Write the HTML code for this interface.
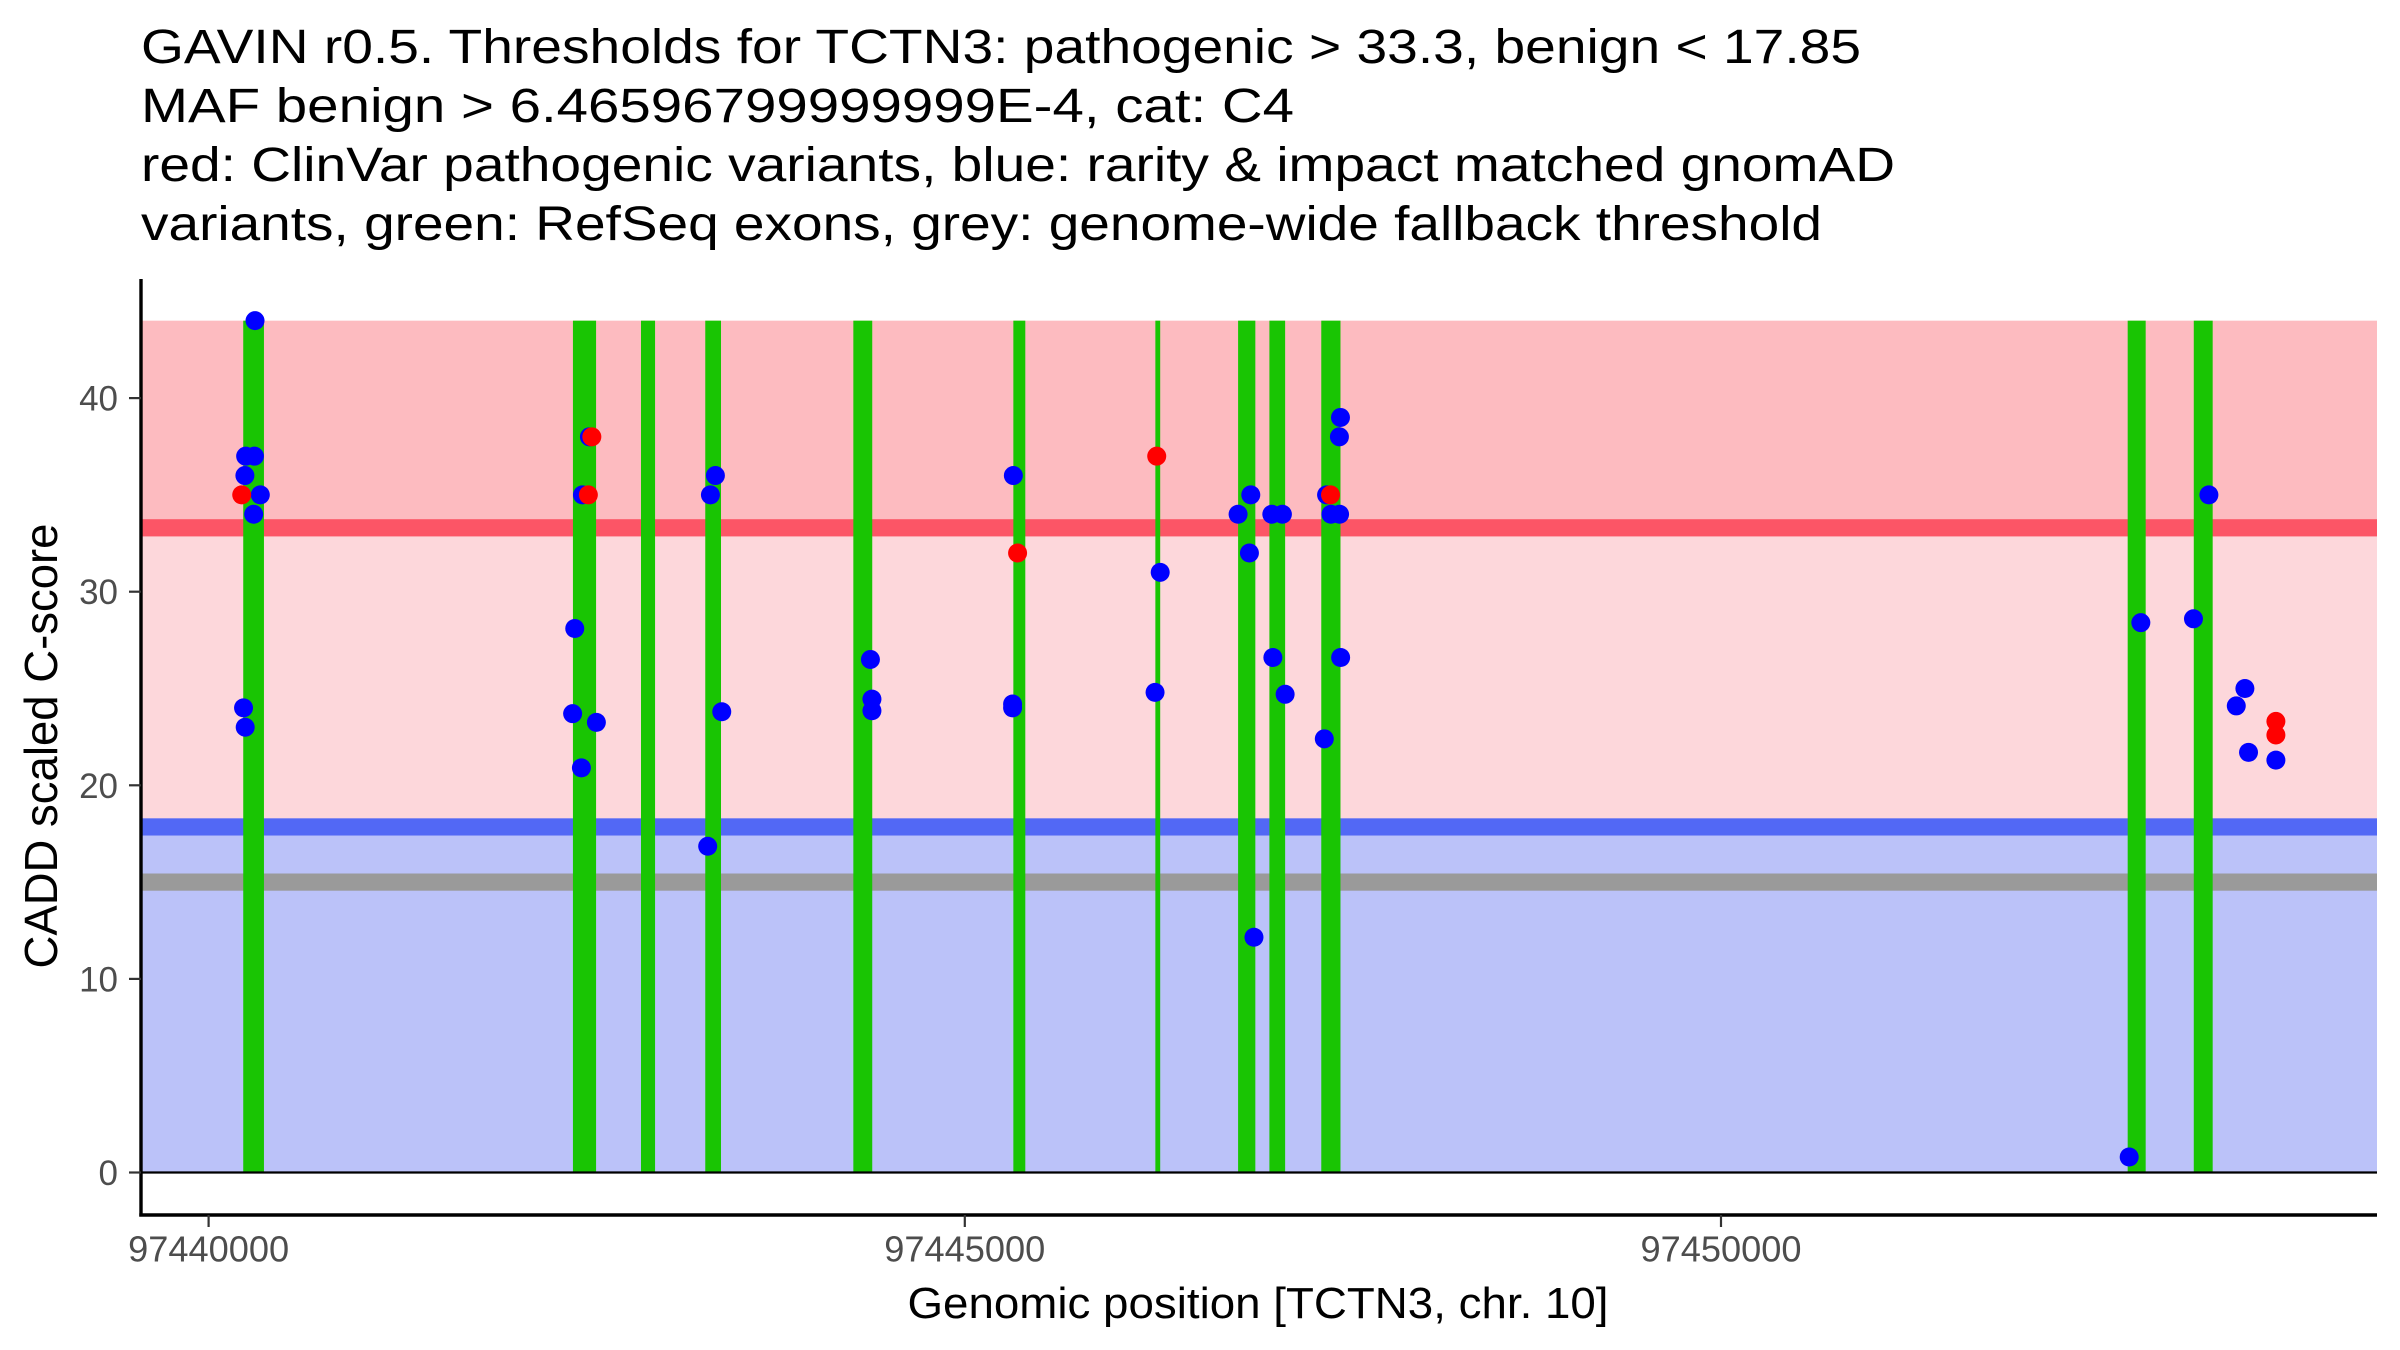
<!DOCTYPE html>
<html><head><meta charset="utf-8"><style>
html,body{margin:0;padding:0;background:#fff;}
svg{display:block;font-family:"Liberation Sans",Arial,sans-serif;}
</style></head><body>
<svg id="chart" width="2400" height="1350" viewBox="0 0 2400 1350" xmlns="http://www.w3.org/2000/svg">
<g font-size="48" fill="#000">
<text x="141" y="63" textLength="1720" lengthAdjust="spacingAndGlyphs">GAVIN r0.5. Thresholds for TCTN3: pathogenic &gt; 33.3, benign &lt; 17.85</text>
<text x="141" y="122" textLength="1153" lengthAdjust="spacingAndGlyphs">MAF benign &gt; 6.46596799999999E-4, cat: C4</text>
<text x="141" y="181" textLength="1754" lengthAdjust="spacingAndGlyphs">red: ClinVar pathogenic variants, blue: rarity &amp; impact matched gnomAD</text>
<text x="141" y="240" textLength="1681" lengthAdjust="spacingAndGlyphs">variants, green: RefSeq exons, grey: genome-wide fallback threshold</text>
</g>
<g id="plot"></g>
<text x="1258" y="1318" font-size="44" text-anchor="middle" textLength="701" lengthAdjust="spacingAndGlyphs">Genomic position [TCTN3, chr. 10]</text>
<text transform="translate(57,746) rotate(-90)" font-size="46" text-anchor="middle" textLength="445" lengthAdjust="spacingAndGlyphs">CADD scaled C-score</text>
</svg>
<script>
const exonStarts = [97440229,97442409,97442859,97443284,97444263,97445321,97446260,97446807,97447014,97447357,97452689,97453126];
const exonEnds   = [97440366,97442562,97442952,97443388,97444388,97445400,97446292,97446921,97447118,97447484,97452808,97453251];
const benignPos = [97440307,97440245,97440303,97440240,97440342,97440298,97440231,97440242,97442518,97442472,97442421,97442407,97442564,97442465,97443351,97443318,97443393,97443300,97444376,97444386,97444386,97445321,97445316,97445316,97446292,97446258,97446891,97446807,97446882,97446912,97447030,97447100,97447037,97447118,97447484,97447477,97447392,97447421,97447478,97447485,97447377,97453226,97452776,97453124,97453464,97453407,97453488,97453669,97452699];
const benignScore = [44,37,37,36,35,34,24,23,38,35,28.1,23.7,23.25,20.9,36,35,23.8,16.85,26.5,24.45,23.85,36,24.2,24,31,24.8,35,34,32,12.15,34,34,26.6,24.7,39,38,35,34,34,26.6,22.4,35,28.4,28.6,25,24.1,21.7,21.3,0.8];
const pathoPos = [97440219,97442534,97442511,97445349,97446269,97447418,97453669,97453669];
const pathoScore = [35,38,35,32,37,35,23.3,22.6];
const xTicks = [97440000,97445000,97450000];
const yTicks = [0,10,20,30,40];
const pathogenicThreshold = 33.3;
const benignThreshold = 17.85;
const fallbackThreshold = 15;
const yMaxBand = 44;

const NS='http://www.w3.org/2000/svg';
const X0=141, X1=2377, YTOP=279, YAX=1215;
const xScale = v => 208.6 + (v-97440000)*0.15124;
const yScale = v => 1172.5 - v*19.36;
const plot=document.getElementById('plot');
function mk(tag, attrs, parent){const e=document.createElementNS(NS,tag);for(const k in attrs)e.setAttribute(k,attrs[k]);(parent||plot).appendChild(e);return e;}

let r;
r=mk('rect',{x:X0,y:yScale(yMaxBand),width:X1-X0,height:yScale(pathogenicThreshold)-yScale(yMaxBand),fill:'#FDBBC0'});


r=mk('rect',{x:X0,y:yScale(pathogenicThreshold),width:X1-X0,height:yScale(benignThreshold)-yScale(pathogenicThreshold),fill:'#FDD7DB'});


r=mk('rect',{x:X0,y:yScale(benignThreshold),width:X1-X0,height:yScale(0)-yScale(benignThreshold),fill:'#BBC2F9'});



const lines=[[pathogenicThreshold,'#FC5566','pathogenic-threshold-line'],[benignThreshold,'#5268F5','benign-threshold-line'],[fallbackThreshold,'#9A9A9A','fallback-threshold-line']];
lines.forEach(l=>{
  const e=mk('rect',{x:X0,y:yScale(l[0])-8.6,width:X1-X0,height:17.2,fill:l[1]});
  
  
});

exonStarts.forEach((s,i)=>{
  const e=mk('rect',{x:xScale(s),y:yScale(yMaxBand),width:xScale(exonEnds[i])-xScale(s),height:yScale(0)-yScale(yMaxBand),fill:'#19C503'});
  
  
});

let zl=mk('line',{x1:X0,x2:X1,y1:yScale(0),y2:yScale(0),stroke:'#000','stroke-width':2.2});



benignPos.forEach((p,i)=>{
  const c=mk('circle',{cx:xScale(p),cy:yScale(benignScore[i]),r:9.5,fill:'#0000FF'});
  
  
});
pathoPos.forEach((p,i)=>{
  const c=mk('circle',{cx:xScale(p),cy:yScale(pathoScore[i]),r:9.5,fill:'#FF0000'});
  
  
});

let ax=mk('line',{x1:X0,x2:X0,y1:YTOP,y2:YAX+1.5,stroke:'#000','stroke-width':3.4});


ax=mk('line',{x1:X0-1.7,x2:X1,y1:YAX,y2:YAX,stroke:'#000','stroke-width':3.4});



yTicks.forEach(t=>{
  const tk=mk('line',{x1:X0-12,x2:X0,y1:yScale(t),y2:yScale(t),stroke:'#333','stroke-width':2.2});
  
  
  const tx=mk('text',{x:118,y:yScale(t)+12.5,'font-size':35,fill:'#4D4D4D','text-anchor':'end'});
  tx.textContent=String(t);
  
  
});
xTicks.forEach(t=>{
  const tk=mk('line',{x1:xScale(t),x2:xScale(t),y1:YAX,y2:YAX+12,stroke:'#333','stroke-width':2.2});
  
  
  const tx=mk('text',{x:xScale(t),y:1261.5,'font-size':36,fill:'#4D4D4D','text-anchor':'middle',textLength:161,lengthAdjust:'spacingAndGlyphs'});
  tx.textContent=String(t);
  
  
});
</script>
</body></html>
